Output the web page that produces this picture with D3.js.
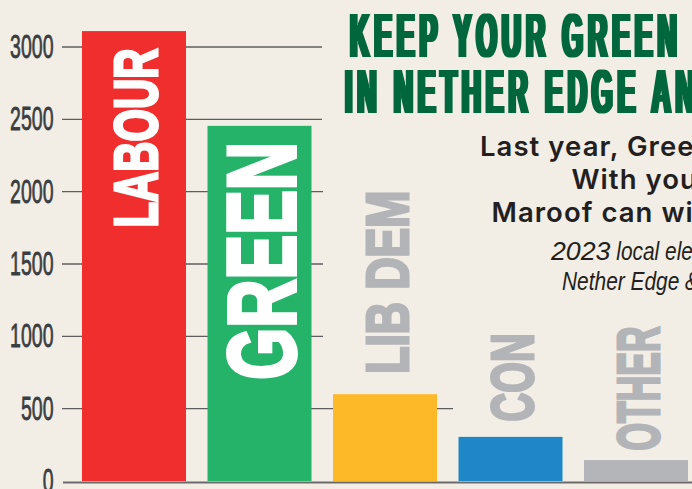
<!DOCTYPE html>
<html>
<head>
<meta charset="utf-8">
<script src="https://cdn.jsdelivr.net/npm/d3@7"></script>
<style>
    html, body { margin: 0; padding: 0; background: #f2eee6; overflow: hidden; }
    svg { display: block; }
</style>
</head>
<body>
<div id="chart"></div>
<script>
// Data
const parties = ['LABOUR', 'GREEN', 'LIB DEM', 'CON', 'OTHER'];
const votes = [3110, 2455, 600, 305, 145];
const yTicks = [0, 500, 1000, 1500, 2000, 2500, 3000];
const titleLines = ['KEEP YOUR GREEN', 'IN NETHER EDGE AND SHARROW'];
const subtitleLines = ['Last year, Green', 'With your', 'Maroof can win'];
const noteLines = ['2023 local election', 'Nether Edge & Sharrow'];

// Styling
const partyColors = ['#ef2e2d', '#25b36a', '#fdb927', '#1f87c8', '#b4b5b8'];
// cap = visible letter height, length = visible run of the word
const labelStyle = [
    { cap: 47, length: 182, stroke: 3, inside: true, gap: 16, color: '#ffffff' },
    { cap: 73, length: 242, stroke: 4, inside: true, gap: 14, color: '#ffffff' },
    { cap: 46, length: 186, stroke: 3, inside: false, gap: 19, color: '#b3b4b7' },
    { cap: 46, length: 91, stroke: 3, inside: false, gap: 14, color: '#b3b4b7' },
    { cap: 46, length: 127, stroke: 3, inside: false, gap: 8, color: '#b3b4b7' }
];
// where each gridline stops (it runs up to the title / labels)
const gridEnd = { 500: 453, 1000: 323, 1500: 323, 2000: 323, 2500: 322, 3000: 322 };

const width = 692;
const height = 489;
const sans = '"Liberation Sans", Arial, sans-serif';

const svg = d3.select('#chart')
    .append('svg')
    .attr('width', width)
    .attr('height', height);

// horizontal-only dilation: fattens vertical stems of squeezed type
const defs = svg.append('defs');
defs.append('filter')
    .attr('id', 'widen')
    .attr('x', '-5%').attr('y', '-5%')
    .attr('width', '110%').attr('height', '110%')
    .append('feMorphology')
    .attr('operator', 'dilate')
    .attr('radius', '1.6 0');

svg.append('rect')
    .attr('width', width)
    .attr('height', height)
    .attr('fill', '#f2eee6');

const x = d3.scaleBand()
    .domain(parties)
    .range([60.5, 709.5])
    .padding(0.1713);

const y = d3.scaleLinear()
    .domain([0, 3000])
    .range([481, 47]);

// Gridlines (behind bars)
svg.append('g')
    .selectAll('line')
    .data(yTicks.filter(d => d > 0))
    .enter()
    .append('line')
    .attr('x1', 62)
    .attr('x2', d => gridEnd[d])
    .attr('y1', d => y(d))
    .attr('y2', d => y(d))
    .attr('stroke', '#5e5e5e')
    .attr('stroke-width', 1.4);

// Tick labels, squeezed like a condensed face
svg.append('g')
    .selectAll('text')
    .data(yTicks)
    .enter()
    .append('text')
    .attr('transform', d => `translate(53.5,${y(d) + 11}) scale(0.6,1)`)
    .attr('text-anchor', 'end')
    .style('font-family', sans)
    .style('font-size', '32.5px')
    .style('fill', '#3b3e41')
    .style('stroke', '#3b3e41')
    .style('stroke-width', '0.8px')
    .text(d => d);

// Bars
svg.append('g')
    .selectAll('rect')
    .data(parties)
    .enter()
    .append('rect')
    .attr('x', d => x(d))
    .attr('y', (d, i) => y(votes[i]))
    .attr('width', x.bandwidth())
    .attr('height', (d, i) => y(0) - y(votes[i]))
    .attr('fill', (d, i) => partyColors[i]);

// Baseline
svg.append('line')
    .attr('x1', 63)
    .attr('x2', width)
    .attr('y1', y(0) + 1.5)
    .attr('y2', y(0) + 1.5)
    .attr('stroke', '#6b6b6b')
    .attr('stroke-width', 2);

// Vertical party labels (heavy condensed look: bold + outline, squeezed to length)
svg.append('g')
    .selectAll('text')
    .data(parties)
    .enter()
    .append('text')
    .attr('transform', (d, i) => {
        const s = labelStyle[i];
        const cx = x(d) + x.bandwidth() / 2 + s.cap / 2 + 1 - s.stroke / 2;
        const top = y(votes[i]);
        const start = s.inside ? top + s.gap + s.length - s.stroke / 2 : top - s.gap - s.stroke / 2;
        return `translate(${cx},${start}) rotate(-90)`;
    })
    .attr('textLength', (d, i) => labelStyle[i].length - labelStyle[i].stroke)
    .attr('lengthAdjust', 'spacingAndGlyphs')
    .style('font-family', sans)
    .style('font-weight', 'bold')
    .style('font-size', (d, i) => (labelStyle[i].cap - labelStyle[i].stroke) / 0.716 + 'px')
    .style('fill', (d, i) => labelStyle[i].color)
    .style('stroke', (d, i) => labelStyle[i].color)
    .style('stroke-width', (d, i) => labelStyle[i].stroke + 'px')
    .style('stroke-linejoin', 'miter')
    .text(d => d);

// Title: bold, squeezed, spaced out, stems widened by the filter
const titleSx = 0.42;
const titleWiden = 3.2;
const titlePos = [[350, 56.7], [345, 112.7]];
const title = svg.append('g').attr('filter', 'url(#widen)');
const titleTexts = title.selectAll('text')
    .data(titleLines)
    .enter()
    .append('text')
    .style('font-family', sans)
    .style('font-weight', 'bold')
    .style('font-size', 45.5 / 0.716 + 'px')
    .style('fill', '#00663a')
    .text(d => d);

const w0 = titleTexts.nodes()[0].getComputedTextLength();
const nGaps = titleLines[0].length - 1;
const spacing = ((330 - titleWiden) / titleSx - w0) / nGaps;
titleTexts
    .style('letter-spacing', spacing + 'px')
    .attr('transform', (d, i) =>
        `translate(${titlePos[i][0]},${titlePos[i][1]}) scale(${titleSx},1)`);

// Subtitle
const subX = [480, 571.5, 491.5];
const subY = [155.5, 188.5, 221.5];
svg.append('g')
    .selectAll('text')
    .data(subtitleLines)
    .enter()
    .append('text')
    .attr('x', (d, i) => subX[i])
    .attr('y', (d, i) => subY[i])
    .style('font-family', 'Inter, "Noto Sans", sans-serif')
    .style('font-weight', 600)
    .style('font-size', '27.5px')
    .style('letter-spacing', '1.05px')
    .style('fill', '#231f20')
    .text(d => d);

// Source note: condensed italic, figures kept wide
const noteX = [551, 562];
const noteY = [260, 290];
const noteSx = 0.82;
const notes = svg.append('g')
    .selectAll('text')
    .data(noteLines)
    .enter()
    .append('text')
    .attr('transform', (d, i) => `translate(${noteX[i]},${noteY[i]}) scale(${noteSx},1)`)
    .style('font-family', sans)
    .style('font-style', 'italic')
    .style('font-size', '25.5px')
    .style('fill', '#231f20');

notes.each(function(d) {
    const m = d.match(/^(\d+)(.*)$/);
    const t = d3.select(this);
    if (m) {
        const fig = t.append('tspan').text(m[1]);
        const natural = fig.node().getComputedTextLength();
        fig.attr('textLength', natural * 1.28).attr('lengthAdjust', 'spacingAndGlyphs');
        t.append('tspan').text(m[2]);
    } else {
        t.text(d);
    }
});
</script>
</body>
</html>
